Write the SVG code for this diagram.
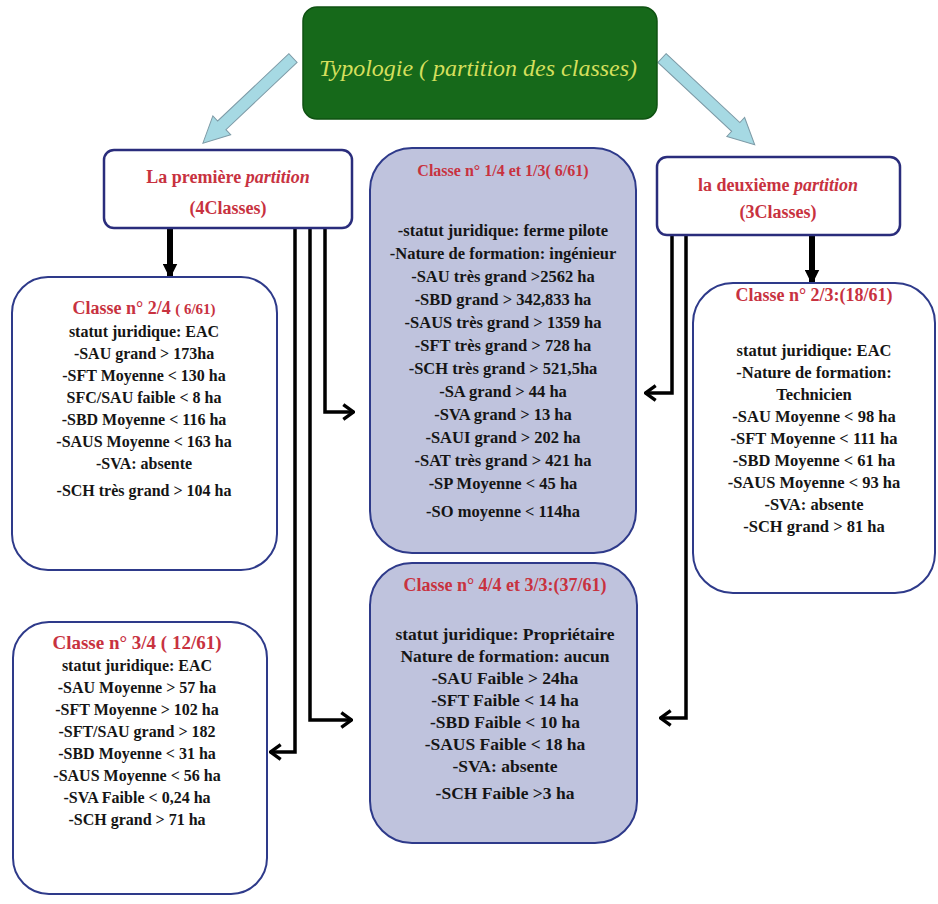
<svg xmlns="http://www.w3.org/2000/svg" width="938" height="904" viewBox="0 0 938 904">
<defs>
<style>
.t{font-family:"Liberation Serif","Times New Roman",serif;font-weight:bold;fill:#151515;text-anchor:middle}
.red{fill:#c8323f}
.part{stroke:#2a2d7c;stroke-width:2.5;fill:#fff}
.cls{stroke:#2e3a8a;stroke-width:2;fill:#fff}
.clsg{stroke:#2e3a8a;stroke-width:2;fill:#bfc3dd}
.ln{stroke:#000;stroke-width:3.5;fill:none}
.thick{stroke:#000;stroke-width:6;fill:none}
.blue{fill:#a6d9e3;stroke:#7d9aa6;stroke-width:1}
</style>
<marker id="chev" viewBox="0 0 12 16" refX="11" refY="8" markerWidth="14" markerHeight="18" markerUnits="userSpaceOnUse" orient="auto">
<path d="M1.5,1.5 L10.5,8 L1.5,14.5" fill="none" stroke="#000" stroke-width="3"/>
</marker>
<marker id="tri" viewBox="0 0 10 10" refX="9" refY="5" markerWidth="15" markerHeight="15" markerUnits="userSpaceOnUse" orient="auto">
<path d="M0,0 L10,5 L0,10 Z" fill="#000"/>
</marker>
</defs>
<rect width="938" height="904" fill="#fff"/>

<g id="connectors">
<polygon class="blue" transform="translate(293,58) rotate(136.6)" points="0,-6 98,-6 98,-13 124,0 98,13 98,6 0,6"/>
<polygon class="blue" transform="translate(662,58) rotate(43.1)" points="0,-6 101,-6 101,-13 127,0 101,13 101,6 0,6"/>
<path class="thick" d="M170,228 L170,277" marker-end="url(#tri)"/>
<path class="thick" d="M812,235 L812,283" marker-end="url(#tri)"/>
<path class="ln" d="M325,228 L325,412 L354,412" marker-end="url(#chev)"/>
<path class="ln" d="M310,228 L310,720 L352,720" marker-end="url(#chev)"/>
<path class="ln" d="M295,228 L295,752 L270,752" marker-end="url(#chev)"/>
<path class="ln" d="M672,235 L672,393 L645,393" marker-end="url(#chev)"/>
<path class="ln" d="M686,235 L686,718 L660,718" marker-end="url(#chev)"/>
</g>

<g id="root">
<rect x="303" y="7" width="354" height="112" rx="14" fill="#16691a" stroke="#0f5212" stroke-width="1.5"/>
<text x="478" y="76" style="font-family:'Liberation Serif','Times New Roman',serif;font-style:italic;font-size:24px;fill:#d4df5c;text-anchor:middle">Typologie ( partition des classes)</text>
</g>

<g id="partition1">
<rect class="part" x="104" y="150" width="248" height="78" rx="10"/>
<text class="t red" x="228" y="183" font-size="18">La première <tspan font-style="italic">partition</tspan></text>
<text class="t red" x="228" y="214" font-size="18">(4Classes)</text>
</g>

<g id="partition2">
<rect class="part" x="657" y="157" width="243" height="78" rx="10"/>
<text class="t red" x="778" y="191" font-size="18">la deuxième <tspan font-style="italic">partition</tspan></text>
<text class="t red" x="778" y="218" font-size="18">(3Classes)</text>
</g>

<g id="classe24">
<rect class="cls" x="12" y="277" width="265" height="293" rx="36"/>
<text class="t red" x="144" y="314" font-size="18">Classe n° 2/4 <tspan font-size="15">( 6/61)</tspan></text>
<g class="t" font-size="16">
<text x="144" y="337">statut juridique: EAC</text>
<text x="144" y="359">-SAU grand &gt; 173ha</text>
<text x="144" y="381">-SFT Moyenne  &lt; 130 ha</text>
<text x="144" y="403">SFC/SAU faible &lt; 8 ha</text>
<text x="144" y="425">-SBD Moyenne  &lt; 116 ha</text>
<text x="144" y="447">-SAUS Moyenne  &lt; 163 ha</text>
<text x="144" y="469">-SVA: absente</text>
<text x="144" y="496">-SCH très grand &gt; 104 ha</text>
</g>
</g>

<g id="classe34">
<rect class="cls" x="13" y="622" width="254" height="272" rx="36"/>
<text class="t red" x="137" y="649" font-size="19">Classe n° 3/4 ( 12/61)</text>
<g class="t" font-size="16">
<text x="137" y="671">statut juridique: EAC</text>
<text x="137" y="693">-SAU Moyenne  &gt; 57 ha</text>
<text x="137" y="715">-SFT Moyenne  &gt; 102 ha</text>
<text x="137" y="737">-SFT/SAU grand &gt; 182</text>
<text x="137" y="759">-SBD Moyenne  &lt; 31 ha</text>
<text x="137" y="781">-SAUS Moyenne  &lt; 56 ha</text>
<text x="137" y="803">-SVA Faible &lt; 0,24 ha</text>
<text x="137" y="825">-SCH grand &gt; 71 ha</text>
</g>
</g>

<g id="classe14-13">
<rect class="clsg" x="370" y="148" width="266" height="405" rx="42"/>
<text class="t red" x="503" y="176" font-size="16">Classe n° 1/4 et 1/3( 6/61)</text>
<g class="t" font-size="16.5">
<text x="503" y="236">-statut juridique: ferme pilote</text>
<text x="503" y="259">-Nature de formation: ingénieur</text>
<text x="503" y="282">-SAU très grand &gt;2562 ha</text>
<text x="503" y="305">-SBD  grand &gt; 342,833 ha</text>
<text x="503" y="328">-SAUS très grand  &gt; 1359 ha</text>
<text x="503" y="351">-SFT très grand &gt; 728 ha</text>
<text x="503" y="374">-SCH très grand &gt; 521,5ha</text>
<text x="503" y="397">-SA  grand &gt; 44 ha</text>
<text x="503" y="420">-SVA  grand &gt; 13 ha</text>
<text x="503" y="443">-SAUI grand  &gt; 202 ha</text>
<text x="503" y="466">-SAT très grand &gt; 421 ha</text>
<text x="503" y="489">-SP Moyenne &lt; 45 ha</text>
<text x="503" y="517">-SO moyenne &lt; 114ha</text>
</g>
</g>

<g id="classe44-33">
<rect class="clsg" x="370" y="563" width="267" height="280" rx="42"/>
<text class="t red" x="505" y="591" font-size="18">Classe n° 4/4 et 3/3:(37/61)</text>
<g class="t" font-size="17.5">
<text x="505" y="640">statut juridique: Propriétaire</text>
<text x="505" y="662">Nature de formation: aucun</text>
<text x="505" y="684">-SAU Faible &gt; 24ha</text>
<text x="505" y="706">-SFT Faible  &lt; 14 ha</text>
<text x="505" y="728">-SBD Faible  &lt; 10 ha</text>
<text x="505" y="750">-SAUS Faible  &lt; 18 ha</text>
<text x="505" y="772">-SVA: absente</text>
<text x="505" y="799">-SCH Faible &gt;3 ha</text>
</g>
</g>

<g id="classe23">
<rect class="cls" x="693" y="283" width="242" height="310" rx="40"/>
<text class="t red" x="814" y="301" font-size="18">Classe n° 2/3:(18/61)</text>
<g class="t" font-size="16.5">
<text x="814" y="356">statut juridique: EAC</text>
<text x="814" y="378">-Nature de formation:</text>
<text x="814" y="400">Technicien</text>
<text x="814" y="422">-SAU Moyenne  &lt; 98 ha</text>
<text x="814" y="444">-SFT Moyenne  &lt; 111 ha</text>
<text x="814" y="466">-SBD Moyenne  &lt; 61 ha</text>
<text x="814" y="488">-SAUS Moyenne  &lt; 93 ha</text>
<text x="814" y="510">-SVA: absente</text>
<text x="814" y="532">-SCH grand &gt; 81 ha</text>
</g>
</g>
</svg>
